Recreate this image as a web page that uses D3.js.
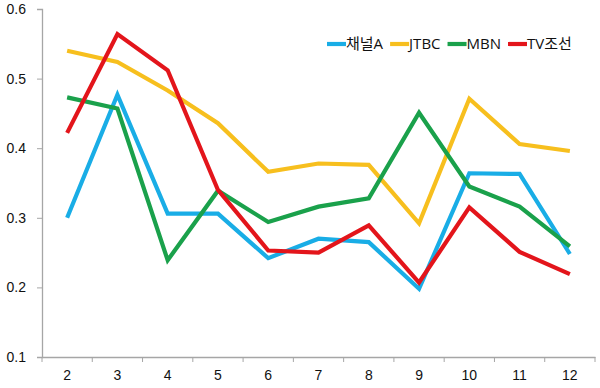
<!DOCTYPE html>
<html>
<head>
<meta charset="utf-8">
<script src="https://cdn.jsdelivr.net/npm/d3@7"></script>
<style>
  body { margin: 0; background: #fff; }
  svg { display: block; font-family: "Open Sans", "Noto Sans CJK KR", sans-serif; }
  .tick text { font-size: 14px; fill: #111; }
  .legend text { font-size: 15px; fill: #111; }
</style>
</head>
<body>
<div id="chart"></div>
<script>
// months along the x axis
const months = [2, 3, 4, 5, 6, 7, 8, 9, 10, 11, 12];
const yTicks = [0.1, 0.2, 0.3, 0.4, 0.5, 0.6];

// values per channel
const channelA = [0.300, 0.477, 0.306, 0.306, 0.242, 0.270, 0.265, 0.198, 0.364, 0.363, 0.248];
const jtbc     = [0.540, 0.524, 0.483, 0.436, 0.366, 0.378, 0.376, 0.292, 0.471, 0.406, 0.396];
const mbn      = [0.473, 0.457, 0.239, 0.339, 0.294, 0.316, 0.328, 0.451, 0.345, 0.316, 0.259];
const tvChosun = [0.422, 0.564, 0.512, 0.340, 0.253, 0.250, 0.289, 0.207, 0.315, 0.251, 0.219];

const names = ['채널A', 'JTBC', 'MBN', 'TV조선'];
const colors = ['#19ade6', '#f7bf1e', '#1aa14b', '#e3151b'];

const series = [channelA, jtbc, mbn, tvChosun].map((vals, i) => ({
  name: names[i], color: colors[i], values: vals
}));

const w = 600, h = 388;
const m = { top: 9, right: 5, bottom: 31, left: 42 };

const svg = d3.select('#chart').append('svg')
  .attr('width', w)
  .attr('height', h);

const x = d3.scaleBand()
  .domain(months)
  .range([m.left, w - m.right]);

const y = d3.scaleLinear()
  .domain([0.1, 0.6])
  .range([h - m.bottom, m.top]);

// y axis
svg.append('g')
  .attr('transform', 'translate(' + m.left + ',0)')
  .call(d3.axisLeft(y).tickValues(yTicks).tickFormat(d3.format('.1f')).tickSize(5).tickPadding(11));

// x axis, ticks between categories like excel
const xAxis = svg.append('g')
  .attr('transform', 'translate(0,' + (h - m.bottom) + ')')
  .call(d3.axisBottom(x).tickSize(0).tickPadding(13));

xAxis.selectAll('.tick-mark')
  .data(d3.range(months.length + 1))
  .enter()
  .append('line')
  .attr('x1', i => m.left + i * x.step())
  .attr('x2', i => m.left + i * x.step())
  .attr('y1', 0)
  .attr('y2', 5);

svg.selectAll('.domain, g line')
  .attr('stroke', '#a6a6a6');
svg.selectAll('.domain').attr('stroke-width', 1.3);

const line = d3.line()
  .x((d, i) => x(months[i]) + x.bandwidth() / 2)
  .y(d => y(d));

svg.selectAll('.series')
  .data(series)
  .enter()
  .append('path')
  .attr('class', 'series')
  .attr('fill', 'none')
  .attr('stroke', d => d.color)
  .attr('stroke-width', 4.2)
  .attr('d', d => line(d.values));

// legend, laid out left to right from text widths
const legend = svg.append('g').attr('class', 'legend');
let lx = 327;
series.forEach(s => {
  const g = legend.append('g').attr('transform', 'translate(' + lx + ',44)');
  g.append('line')
    .attr('x1', 0).attr('x2', 19)
    .attr('stroke', s.color)
    .attr('stroke-width', 4.2);
  const t = g.append('text')
    .attr('x', 19)
    .attr('dy', '0.35em')
    .text(s.name);
  lx += 19 + t.node().getComputedTextLength() + 7;
});
</script>
</body>
</html>
